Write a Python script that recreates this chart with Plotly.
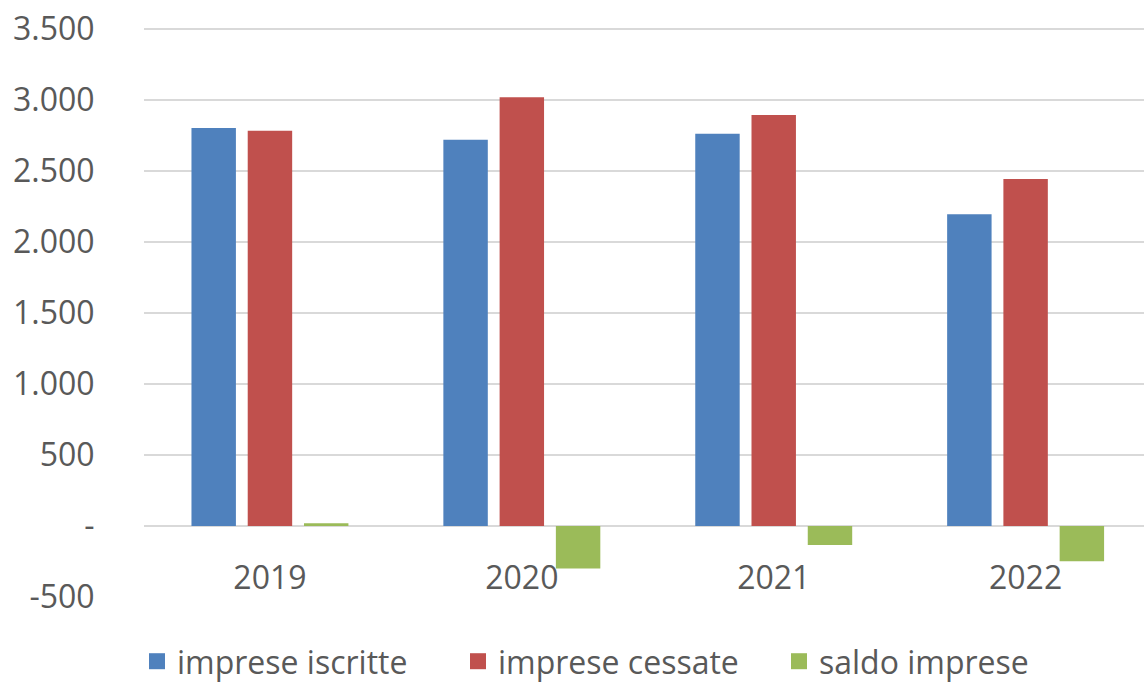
import plotly.graph_objects as go

years = ["2019", "2020", "2021", "2022"]
iscritte = [2803, 2720, 2762, 2195]
cessate = [2784, 3020, 2895, 2444]
saldo = [19, -300, -133, -249]

y_tickvals = [-500, 0, 500, 1000, 1500, 2000, 2500, 3000, 3500]
y_ticktext = ["-500", "-", "500", "1.000", "1.500", "2.000", "2.500", "3.000", "3.500"]

series_names = ["imprese iscritte", "imprese cessate", "saldo imprese"]
colors = ["#4F81BD", "#C0504D", "#9BBB59"]

FONT = "Open Sans"
TXT = "#595959"
GRID = "#D9D9D9"

fig = go.Figure()
for name, vals, col in zip(series_names, [iscritte, cessate, saldo], colors):
    fig.add_trace(go.Bar(x=years, y=vals, name=name, showlegend=False,
                         marker=dict(color=col, line=dict(width=0))))
# legend-only entries with larger square swatches
for name, col in zip(series_names, colors):
    fig.add_trace(go.Scatter(x=[None], y=[None], mode="markers", name=name,
                             marker=dict(symbol="square", size=17, color=col)))

fig.update_layout(
    width=1144, height=683,
    margin=dict(l=144, r=0, t=27, b=86, autoexpand=False),
    paper_bgcolor="white", plot_bgcolor="white",
    barmode="group", bargap=0.33, bargroupgap=0.21,
    font=dict(family=FONT, size=32, color=TXT),
    showlegend=True,
    legend=dict(orientation="h", x=-0.007, xanchor="left", y=-0.113, yanchor="middle",
                font=dict(family=FONT, size=32, color=TXT), itemwidth=30,
                entrywidth=276, entrywidthmode="pixels",
                bgcolor="rgba(0,0,0,0)"),
)
fig.update_yaxes(range=[-500, 3514], tickvals=y_tickvals, ticktext=y_ticktext,
                 automargin=False, ticklabeloverflow="allow",
                 showgrid=True, gridcolor=GRID, gridwidth=1.5,
                 zeroline=True, zerolinecolor=GRID, zerolinewidth=1.5,
                 ticks="outside", ticklen=42, tickcolor="rgba(0,0,0,0)",
                 tickfont=dict(family=FONT, size=32, color=TXT), showline=False)
fig.update_xaxes(range=[-0.5, 3.47], anchor="free", position=500 / 4014,
                 automargin=False,
                 showline=False, showgrid=False,
                 ticks="outside", ticklen=24, tickcolor="rgba(0,0,0,0)",
                 tickfont=dict(family=FONT, size=32, color=TXT))

fig.write_html("out.html",
               config={"displayModeBar": False},
               post_script="document.body.style.margin='0';document.body.style.overflow='hidden';")
